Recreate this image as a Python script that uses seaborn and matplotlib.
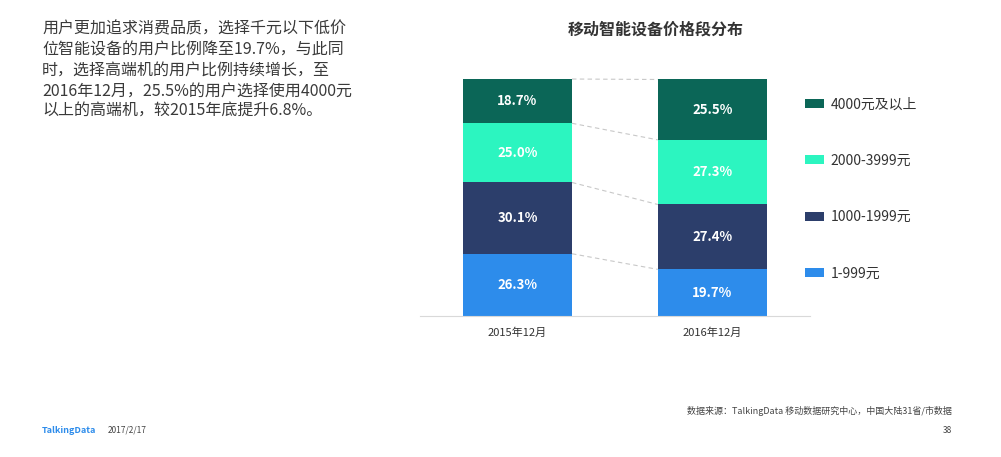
import pandas as pd
import matplotlib.pyplot as plt
import seaborn as sns

periods = ['2015年12月', '2016年12月']
segments = ['1-999元', '1000-1999元', '2000-3999元', '4000元及以上']
share_2015 = [26.3, 30.1, 25.0, 18.7]
share_2016 = [19.7, 27.4, 27.3, 25.5]
seg_colors = ['#2d8ceb', '#2c3e6b', '#2cf5c0', '#0b6657']

title = '移动智能设备价格段分布'
summary = ('用户更加追求消费品质，选择千元以下低价\n'
           '位智能设备的用户比例降至19.7%，与此同\n'
           '时，选择高端机的用户比例持续增长，至\n'
           '2016年12月，25.5%的用户选择使用4000元\n'
           '以上的高端机，较2015年底提升6.8%。')
source = '数据来源：TalkingData 移动数据研究中心，中国大陆31省/市数据'

sns.set_style('white')
plt.rcParams['font.family'] = ['Noto Sans CJK SC', 'DejaVu Sans']

df = pd.DataFrame({'period': periods * len(segments),
                   'segment': [s for s in segments for _ in periods],
                   'share': [v for pair in zip(share_2015, share_2016) for v in pair]})
df['top'] = df.groupby('period')['share'].cumsum()
df['bottom'] = df['top'] - df['share']

fig = plt.figure(figsize=(10.01, 4.57), dpi=100)
ax = fig.add_axes([0.4195, 0.3085, 0.3896, 0.5186])

# draw tallest cumulative first so the lower segments sit on top
for seg, color in reversed(list(zip(segments, seg_colors))):
    sub = df[df['segment'] == seg]
    sns.barplot(data=sub, x='period', y='top', order=periods, color=color,
                width=0.56, saturation=1, ax=ax, label=seg, linewidth=0)

width = 0.56
for seg in segments:
    sub = df[df['segment'] == seg].set_index('period').loc[periods]
    for i, (p, row) in enumerate(sub.iterrows()):
        ax.text(i, (row['top'] + row['bottom']) / 2, f"{row['share']:.1f}%",
                ha='center', va='center', color='white', fontsize=9.5,
                fontweight='bold')
    ax.plot([width / 2, 1 - width / 2], sub['top'].values, ls=(0, (4, 3)),
            color='#c8c8c8', lw=0.8, clip_on=False)

ax.set_xlim(-0.5, 1.5)
ax.set_ylim(0, 100.1)
ax.set_xlabel('')
ax.set_ylabel('')
ax.set_yticks([])
ax.tick_params(axis='x', length=0, labelsize=8, labelcolor='#333333', pad=8)
for side in ['top', 'right', 'left']:
    ax.spines[side].set_visible(False)
ax.spines['bottom'].set_color('#d9d9d9')
ax.spines['bottom'].set_linewidth(0.8)

handles, labels = ax.get_legend_handles_labels()
ax.legend(handles, labels, loc='upper left', bbox_to_anchor=(0.955, 0.975),
          frameon=False, fontsize=10, labelcolor='#333333',
          handlelength=1.35, handleheight=0.6, labelspacing=3.05,
          handletextpad=0.5)

fig.text(0.655, 0.935, title, ha='center', va='center', fontsize=11.5,
         fontweight='bold', color='#333333')
fig.text(0.042, 0.955, summary, ha='left', va='top', fontsize=11.5,
         color='#3a3a3a', linespacing=1.28)
fig.text(0.951, 0.1, source, ha='right', va='center', fontsize=6.5,
         color='#444444')
fig.text(0.042, 0.058, 'TalkingData', ha='left', va='center', fontsize=6.5,
         fontweight='bold', color='#2d8ceb')
fig.text(0.108, 0.058, '2017/2/17', ha='left', va='center', fontsize=6,
         color='#444444')
fig.text(0.951, 0.058, '38', ha='right', va='center', fontsize=6,
         color='#444444')

fig.savefig('out.png', dpi=100)
